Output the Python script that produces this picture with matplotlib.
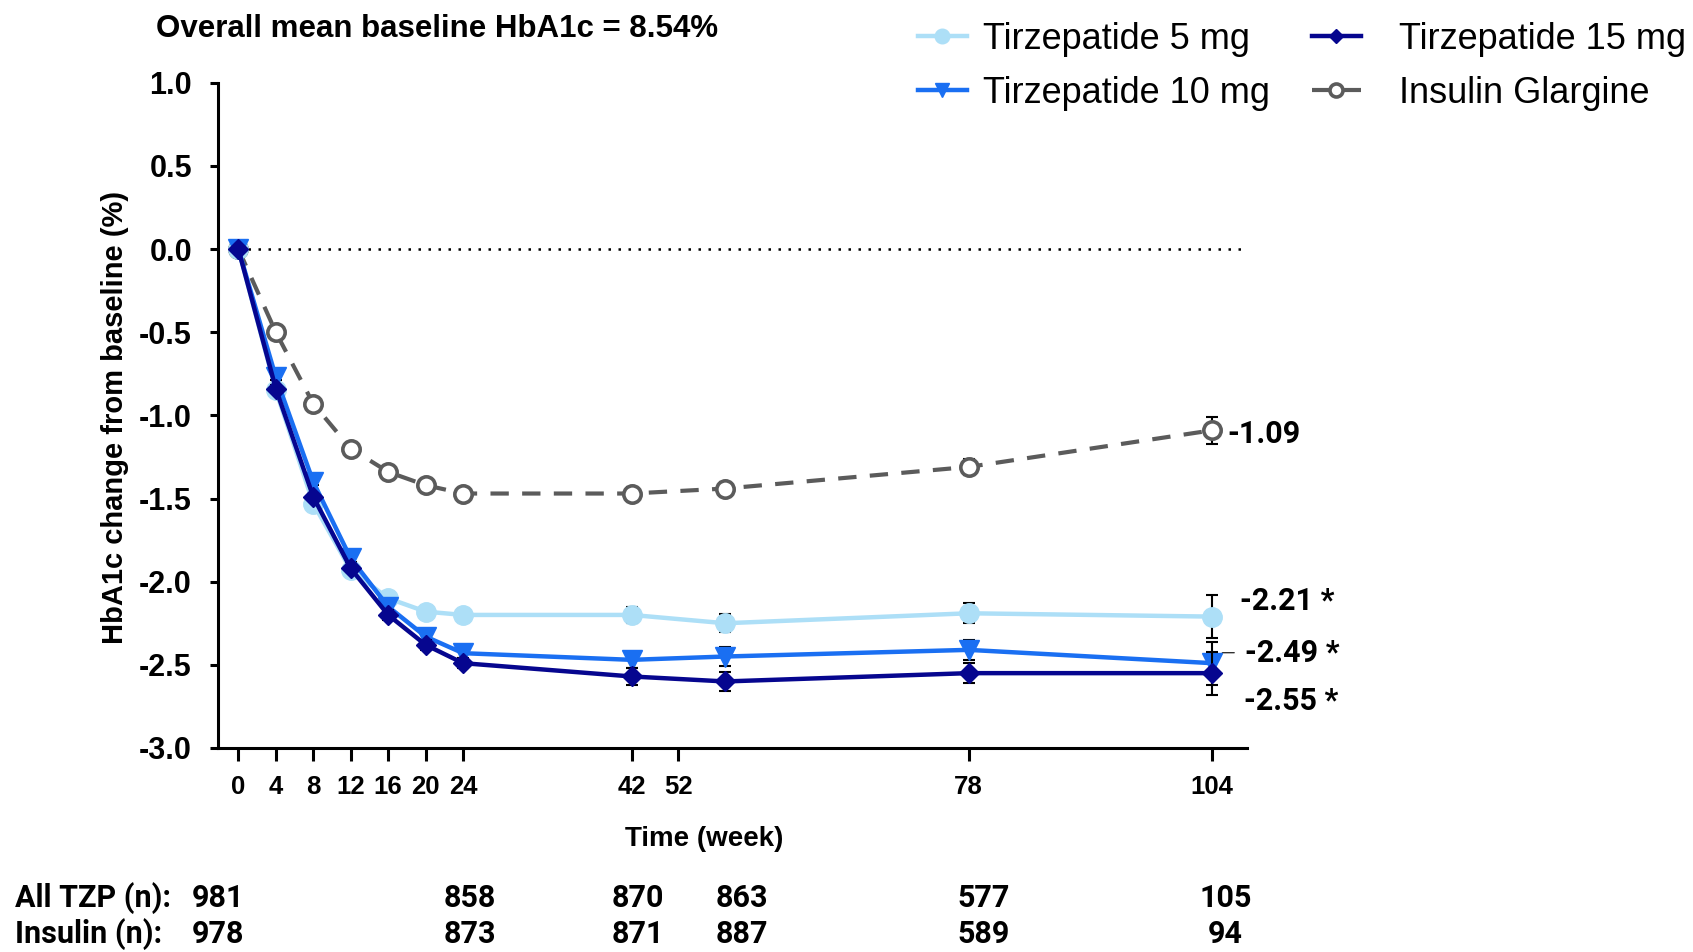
import numpy as np
import matplotlib.pyplot as plt
from matplotlib.transforms import blended_transform_factory

# Visit weeks
weeks = [0, 4, 8, 12, 16, 20, 24, 42, 52, 78, 104]

# LS mean change in HbA1c from baseline (%)
tzp_5 = [0, -0.85, -1.53, -1.93, -2.10, -2.18, -2.20, -2.20, -2.25, -2.19, -2.21]
tzp_10 = [0, -0.77, -1.40, -1.86, -2.15, -2.33, -2.43, -2.47, -2.45, -2.41, -2.49]
tzp_15 = [0, -0.84, -1.49, -1.92, -2.20, -2.38, -2.49, -2.57, -2.60, -2.55, -2.55]
glargine = [0, -0.50, -0.93, -1.20, -1.34, -1.42, -1.47, -1.47, -1.44, -1.31, -1.09]

# Standard errors
se_tzp = [0, 0.02, 0.02, 0.02, 0.03, 0.03, 0.03, 0.05, 0.055, 0.06, 0.13]
se_glargine = [0, 0.02, 0.02, 0.02, 0.03, 0.03, 0.03, 0.04, 0.04, 0.05, 0.08]

# Axis ticks
xtick_pos = [0, 4, 8, 12, 16, 20, 24, 42, 47, 78, 104]
xtick_labels = ['0', '4', '8', '12', '16', '20', '24', '42', '52', '78', '104']
yticks = [-3.0, -2.5, -2.0, -1.5, -1.0, -0.5, 0.0, 0.5, 1.0]
ytick_labels = ['-3.0', '-2.5', '-2.0', '-1.5', '-1.0', '-0.5', '0.0', '0.5', '1.0']

# Patients at risk
n_tzp = ['981', '858', '870', '863', '577', '105']
n_ins = ['978', '873', '871', '887', '589', '94']
n_cols = [-2.2, 24.7, 42.7, 53.8, 79.6, 105.4]

arial = ['Liberation Sans', 'DejaVu Sans']
din = ['Roboto', 'DejaVu Sans']

fig = plt.figure(figsize=(16.93, 9.52), dpi=100)
ax = fig.add_axes([0.1288, 0.2143, 0.6076, 0.6988])

xmax = 107.7
ax.set_xlim(-2.17, xmax)
ax.set_ylim(-3, 1)

# zero reference
ax.hlines(0, weeks[0], xmax, colors='black', lw=1.8, linestyles=(0, (1, 3)), zorder=1)

c5, c10, c15, cins = '#addff7', '#1a6ff2', '#06068f', '#5b5b5b'

# insulin glargine
ax.errorbar(weeks, glargine, yerr=se_glargine, fmt='none', ecolor='black',
            elinewidth=1.5, capsize=4, capthick=1.5, zorder=2)
l_ins, = ax.plot(weeks, glargine, color=cins, lw=3.0, marker='o', ms=12.5,
                 mfc='white', mec=cins, mew=2.6, zorder=2.5, label='Insulin Glargine')
l_ins.set_dashes([4.4, 3.2])

# tirzepatide arms
lines = {}
for z, (vals, col, mk, ms, lab) in enumerate([
        (tzp_5, c5, 'o', 14, 'Tirzepatide 5 mg'),
        (tzp_10, c10, 'v', 14, 'Tirzepatide 10 mg'),
        (tzp_15, c15, 'D', 10, 'Tirzepatide 15 mg')]):
    ax.errorbar(weeks, vals, yerr=se_tzp, fmt='none', ecolor='black',
                elinewidth=1.5, capsize=4, capthick=1.5, zorder=3 + z)
    ln, = ax.plot(weeks, vals, color=col, lw=3.2, marker=mk, ms=ms,
                  mfc=col, mec=col, zorder=3.5 + z, label=lab)
    lines[lab] = ln

# end-of-study values
lab_kw = dict(textcoords='offset points', ha='left', va='center',
              fontsize=22, fontweight='bold', family=din, annotation_clip=False)
ax.annotate(f'{glargine[-1]:.2f}', (weeks[-1], glargine[-1]), xytext=(10.8, -3), **lab_kw)
ax.annotate(f'{tzp_5[-1]:.2f} *', (weeks[-1], tzp_5[-1]), xytext=(20, 11), **lab_kw)
ax.annotate(f'{tzp_10[-1]:.2f} *', (weeks[-1], tzp_10[-1]), xytext=(24, 7.5),
            arrowprops=dict(arrowstyle='-', color='black', lw=0.8, shrinkA=6, shrinkB=0,
                            relpos=(0, 0.5),
                            connectionstyle='angle,angleA=0,angleB=45,rad=0'),
            **lab_kw)
ax.annotate(f'{tzp_15[-1]:.2f} *', (weeks[-1], tzp_15[-1]), xytext=(23, -20), **lab_kw)

# axes styling
for side in ['top', 'right']:
    ax.spines[side].set_visible(False)
for side in ['left', 'bottom']:
    ax.spines[side].set_linewidth(2.2)

ax.set_xticks(xtick_pos)
ax.set_xticklabels(xtick_labels, fontsize=18.5, fontweight='bold', family=arial)
ax.set_yticks(yticks)
ax.set_yticklabels(ytick_labels, fontsize=22, fontweight='bold', family=arial)
ax.tick_params(axis='x', length=9, width=2.2, pad=10.5)
ax.tick_params(axis='y', length=5.6, width=2.2, pad=13.2)

fig.text(0.0682, 0.562, 'HbA1c change from baseline (%)', rotation=90, ha='center',
         va='center', fontsize=21, fontweight='bold', family=arial)
fig.text(0.4158, 0.1185, 'Time (week)', ha='center', va='center', fontsize=20,
         fontweight='bold', family=arial)
fig.text(0.0924, 0.970, 'Overall mean baseline HbA1c = 8.54%', ha='left', va='center',
         fontsize=22.5, fontweight='bold', family=arial)

# legend, one block per column
leg_kw = dict(loc='upper left', frameon=False, prop=dict(family=arial, size=26),
              handlelength=1.35, labelspacing=0.52, borderpad=0, borderaxespad=0,
              markerscale=0.75)
col1 = [lines['Tirzepatide 5 mg'], lines['Tirzepatide 10 mg']]
col2 = [lines['Tirzepatide 15 mg'], l_ins]
fig.legend(col1, [h.get_label() for h in col1], bbox_to_anchor=(0.5422, 0.977),
           handletextpad=0.44, **leg_kw)
fig.legend(col2, [h.get_label() for h in col2], bbox_to_anchor=(0.775, 0.977),
           handletextpad=1.06, **leg_kw)

# number of patients table
tr = blended_transform_factory(ax.transData, fig.transFigure)
row_y = [0.0565, 0.0185]
tab_kw = dict(fontsize=22, fontweight='bold', family=din, va='center')
fig.text(0.0089, row_y[0], 'All TZP (n):', ha='left', **tab_kw)
fig.text(0.0089, row_y[1], 'Insulin (n):', ha='left', **tab_kw)
for x, a, b in zip(n_cols, n_tzp, n_ins):
    fig.text(x, row_y[0], a, transform=tr, ha='center', **tab_kw)
    fig.text(x, row_y[1], b, transform=tr, ha='center', **tab_kw)

fig.savefig('out.png', dpi=100)
